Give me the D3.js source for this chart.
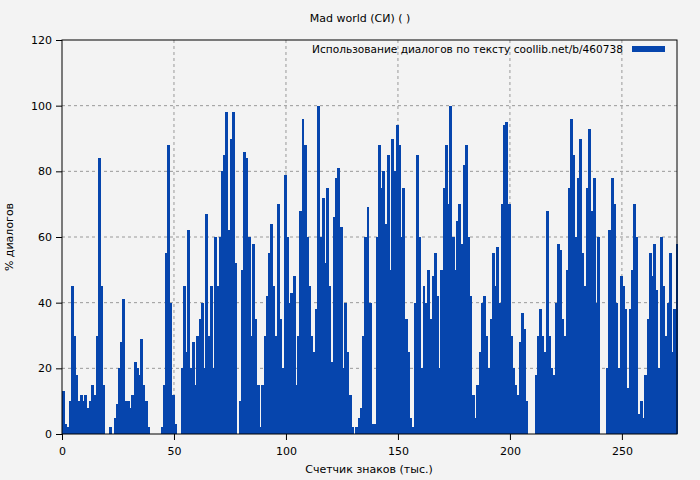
<!DOCTYPE html>
<html>
<head>
<meta charset="utf-8">
<script src="https://cdn.jsdelivr.net/npm/d3@7"></script>
<style>
body{margin:0;background:#f3f3f3;}
text{font-family:"DejaVu Sans",sans-serif;font-size:11px;fill:#000;}
</style>
</head>
<body>
<div id="chart"></div>
<script>
var title = "Mad world (СИ) ( )";
var legendLabel = "Использование диалогов по тексту  coollib.net/b/460738";
var xLabel = "Счетчик знаков (тыс.)";
var yLabel = "% диалогов";
var xTicks = [0,50,100,150,200,250];
var yTicks = [0,20,40,60,80,100,120];
var values = [
13,3,2,10,45,30,18,10,12,10,
12,8,10,15,12,30,84,45,15,0,
0,2,0,5,9,20,28,41,10,10,
8,12,22,20,18,29,15,10,2,0,
0,0,0,0,2,15,55,88,40,12,
3,0,0,20,45,25,62,20,28,15,
30,35,40,20,67,30,45,20,60,45,
60,80,85,98,62,90,98,52,0,10,
50,86,84,60,30,58,35,15,2,15,
30,42,55,64,45,30,70,35,20,79,
60,40,43,48,15,30,68,96,88,60,
45,30,25,38,100,60,72,52,75,45,
22,66,78,81,63,20,40,25,12,2,
0,2,5,8,30,60,69,40,3,3,
60,88,75,80,64,85,50,90,80,94,
88,60,75,35,25,5,2,40,85,60,
20,45,40,50,35,48,55,42,20,50,
75,88,70,100,60,50,65,70,58,82,
88,60,42,12,5,15,25,40,42,30,
20,35,55,45,57,40,70,94,95,70,
30,20,15,12,28,37,32,10,0,0,
0,18,30,38,30,25,68,30,20,18,
40,58,56,35,30,50,75,96,85,60,
78,90,55,45,75,93,68,78,40,60,
0,0,0,20,62,78,70,40,20,48,
45,38,14,38,50,70,60,6,10,5,
18,35,55,48,58,44,20,60,45,30,
40,55,25,38,58
];

function init(){
    var w = 700, h = 480;
    var left = 62, right = 677, top = 40, bottom = 434;

    var svg = d3.select("#chart").append("svg")
        .attr("width", w).attr("height", h);

    var xScale = d3.scaleLinear().domain([0, 274.6]).range([left, right]);
    var yScale = d3.scaleLinear().domain([0, 120]).range([bottom, top]);

    // grid
    svg.append("g").selectAll("line").data(yTicks.slice(1, -1)).enter().append("line")
        .attr("x1", left).attr("x2", right)
        .attr("y1", function(d){ return yScale(d); })
        .attr("y2", function(d){ return yScale(d); })
        .attr("stroke", "#999").attr("stroke-dasharray", "3,3");
    svg.append("g").selectAll("line").data(xTicks.slice(1)).enter().append("line")
        .attr("y1", top).attr("y2", bottom)
        .attr("x1", function(d){ return xScale(d); })
        .attr("x2", function(d){ return xScale(d); })
        .attr("stroke", "#999").attr("stroke-dasharray", "3,3");

    var bw = xScale(1) - xScale(0);
    svg.append("g").attr("shape-rendering", "crispEdges")
        .selectAll("rect").data(values).enter().append("rect")
        .attr("x", function(d, i){ return xScale(i); })
        .attr("y", function(d){ return yScale(d); })
        .attr("width", bw + 0.6)
        .attr("height", function(d){ return bottom - yScale(d); })
        .attr("fill", "#0645ad");

    // frame
    svg.append("rect").attr("x", left).attr("y", top)
        .attr("width", right - left).attr("height", bottom - top)
        .attr("fill", "none").attr("stroke", "#000");

    svg.append("g").attr("transform", "translate(0," + bottom + ")")
        .call(d3.axisBottom(xScale).tickValues(xTicks).tickSize(6).tickSizeOuter(0))
        .call(function(g){ g.select(".domain").remove(); g.selectAll("text").attr("dy", "1.1em"); });
    svg.append("g").attr("transform", "translate(" + left + ",0)")
        .call(d3.axisLeft(yScale).tickValues(yTicks).tickSize(6).tickSizeOuter(0))
        .call(function(g){ g.select(".domain").remove(); g.selectAll("text").attr("x", -10); });
    svg.selectAll(".tick text").style("font-size", "11px").style("font-family", "DejaVu Sans");

    svg.append("text").attr("x", 360).attr("y", 22).attr("text-anchor", "middle").text(title);
    svg.append("text").attr("x", 369).attr("y", 473).attr("text-anchor", "middle").text(xLabel);
    svg.append("text").attr("transform", "translate(13,237) rotate(-90)")
        .attr("text-anchor", "middle").text(yLabel);

    svg.append("text").attr("x", 312).attr("y", 53).attr("textLength", 311)
        .attr("lengthAdjust", "spacingAndGlyphs").text(legendLabel);
    svg.append("rect").attr("x", 632).attr("y", 46).attr("width", 33).attr("height", 6).attr("fill", "#0645ad");
}
window.onload = init;
</script>
</body>
</html>
